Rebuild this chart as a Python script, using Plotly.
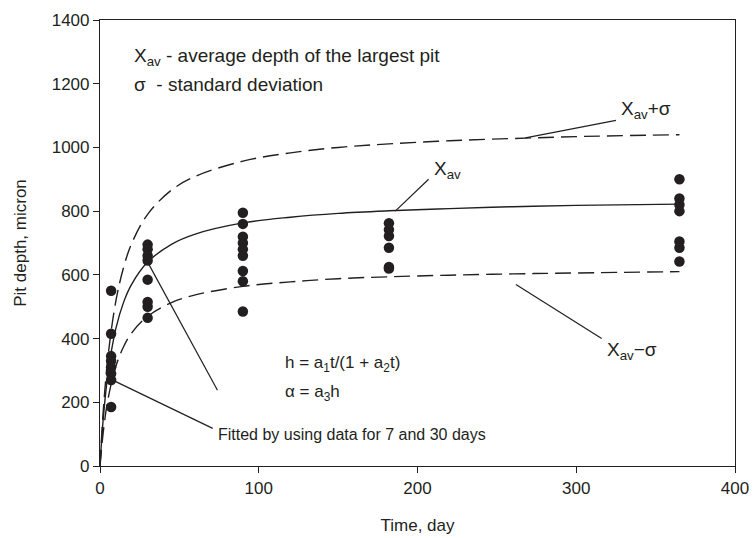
import plotly.graph_objects as go

# Measured pit depths (micron) at each exposure time (days)
t7 = [550, 415, 345, 330, 310, 290, 270, 185]
t30 = [695, 680, 660, 645, 585, 515, 500, 465]
t90 = [795, 760, 720, 700, 680, 660, 612, 580, 485]
t182 = [762, 742, 722, 685, 625, 620]
t365 = [900, 840, 820, 800, 705, 685, 642]
times = [7, 30, 90, 182, 365]
depths = [t7, t30, t90, t182, t365]

# Curves
curve_t = [0, 2, 5, 10, 15, 20, 30, 45, 60, 90, 120, 150, 182, 220, 260, 300, 365]
x_av = [0, 146, 290, 432, 516, 571, 640, 696, 728, 763, 781, 793, 801, 808, 814, 818, 822]
x_av_plus = [0, 169, 342, 518, 626, 699, 790, 866, 909, 957, 983, 1000, 1011, 1021, 1028, 1034, 1040]
x_av_minus = [0, 104, 209, 313, 376, 418, 470, 513, 537, 564, 578, 588, 594, 599, 603, 606, 610]

ink = "#231f20"
font = "Liberation Sans, Arial, sans-serif"
fs = 17

fig = go.Figure()
dash = "16px,7px"
fig.add_trace(go.Scatter(x=curve_t, y=x_av_plus, mode="lines", line=dict(color=ink, width=1.4, dash=dash, shape="spline"), hoverinfo="skip"))
fig.add_trace(go.Scatter(x=curve_t, y=x_av, mode="lines", line=dict(color=ink, width=1.4, shape="spline"), hoverinfo="skip"))
fig.add_trace(go.Scatter(x=curve_t, y=x_av_minus, mode="lines", line=dict(color=ink, width=1.4, dash=dash, shape="spline"), hoverinfo="skip"))

px, py = [], []
for t, ds in zip(times, depths):
    for d in ds:
        px.append(t)
        py.append(d)
fig.add_trace(go.Scatter(x=px, y=py, mode="markers", marker=dict(color=ink, size=10.5), hoverinfo="skip"))

# leader lines
leaders = [
    ((325, 1085), (268, 1030)),   # Xav+sigma
    ((207, 900), (186, 800)),     # Xav
    ((316, 400), (262, 570)),     # Xav-sigma
    ((7, 272), (71, 118)),        # fitted, 7 days
    ((30, 640), (74, 238)),       # fitted, 30 days
]
for (x0, y0), (x1, y1) in leaders:
    fig.add_shape(type="line", x0=x0, y0=y0, x1=x1, y1=y1, line=dict(color=ink, width=1.2))

def ann(x, y, text, size=fs, xanchor="left"):
    fig.add_annotation(x=x, y=y, text=text, showarrow=False, xanchor=xanchor, yanchor="middle",
                       font=dict(family=font, size=size, color=ink))

ann(20, 1285, "X<sub>av</sub> - average depth of the largest pit", size=19)
ann(20, 1197, "σ  - standard deviation", size=19)
ann(327, 1118, "X<sub>av</sub>+σ", size=19)
ann(209, 928, "X<sub>av</sub>", size=19)
ann(318, 362, "X<sub>av</sub>−σ", size=19)
ann(115, 320, "h = a<sub>1</sub>t/(1 + a<sub>2</sub>t)")
ann(115, 228, "α = a<sub>3</sub>h")
ann(73, 98, "Fitted by using data for 7 and 30 days", size=16)

axis_common = dict(showline=True, linecolor=ink, linewidth=1.2, mirror=True, ticks="outside",
                   tickcolor=ink, ticklen=6, showgrid=False, zeroline=False, automargin=False,
                   tickfont=dict(family=font, size=fs, color=ink),
                   title_font=dict(family=font, size=fs, color=ink))
fig.update_layout(
    width=754, height=538,
    margin=dict(l=100, r=19, t=20, b=72),
    plot_bgcolor="white", paper_bgcolor="white",
    showlegend=False,
    xaxis=dict(range=[0, 400], dtick=100, title=dict(text="Time, day", standoff=22), **axis_common),
    yaxis=dict(range=[0, 1400], dtick=200, title=dict(text="Pit depth, micron", standoff=20), **axis_common),
)
fig.write_html("out.html")
